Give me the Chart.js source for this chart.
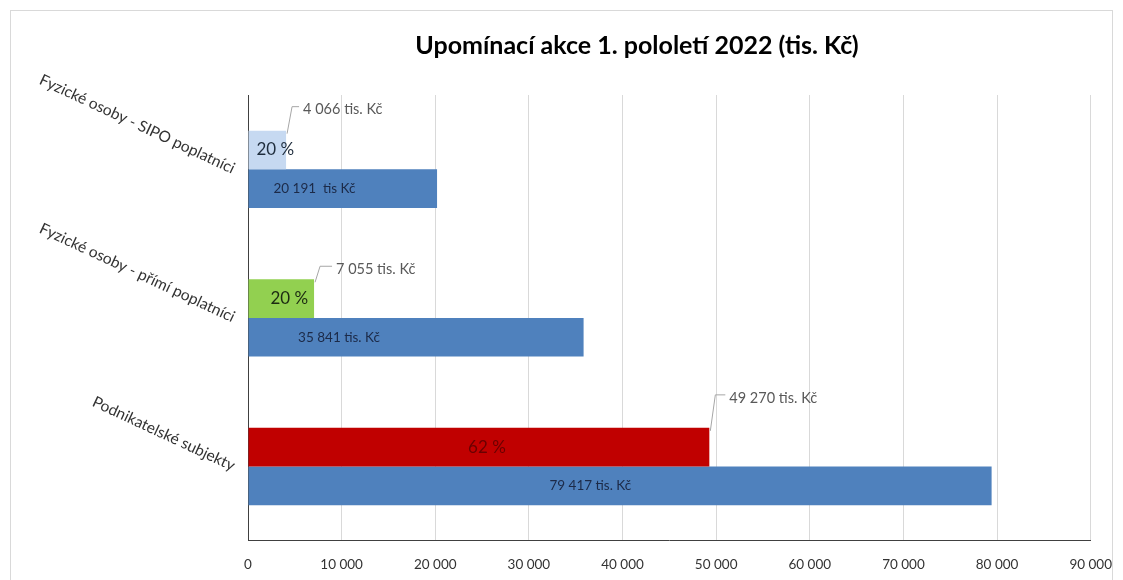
<!DOCTYPE html>
<html lang="cs">
  <head>
    <meta charset="UTF-8" />
    <title>Upomínací akce 1. pololetí 2022</title>
    <script src="https://cdn.jsdelivr.net/npm/chart.js"></script>
    <style>
      html, body {
        margin: 0;
        background: #fff;
        overflow: hidden;
      }
      .wrap {
        position: relative;
        width: 1128px;
        height: 599px;
      }
    </style>
  </head>
  <body>
    <div class="wrap">
      <canvas id="myChart"></canvas>
    </div>

    <script>
      // data
      var categories = [
        "Fyzické osoby - SIPO poplatníci",
        "Fyzické osoby - přímí poplatníci",
        "Podnikatelské subjekty"
      ];
      var recovered = [4066, 7055, 49270];
      var totals = [20191, 35841, 79417];
      var totalLabels = ["20 191  tis Kč", "35 841 tis. Kč", "79 417 tis. Kč"];
      var xTicks = [0, 10000, 20000, 30000, 40000, 50000, 60000, 70000, 80000, 90000];

      var partColors = ["#c6d9f1", "#92d050", "#c00000"];
      var partTextColors = ["#1f2d3d", "#1c2a12", "#6a0000"];

      function fmt(v) {
        return String(v).replace(/\B(?=(\d{3})+(?!\d))/g, " ");
      }

      var FONT = "Lato, 'Open Sans', sans-serif";

      var labelsPlugin = {
        id: "labels",
        afterDatasetsDraw: function (chart) {
          var ctx = chart.ctx;
          var area = chart.chartArea;
          var yScale = chart.scales.y;
          var partMeta = chart.getDatasetMeta(0).data;
          var totalMeta = chart.getDatasetMeta(1).data;
          // where the labels sit along their bars (as in the original)
          var totalPos = [0.35, 0.27, 0.46];
          var calloutUp = [21, 10, 30];
          var calloutGap = [17, 22, 20];

          ctx.save();

          // title
          ctx.fillStyle = "#000";
          ctx.font = "bold 25px " + FONT;
          ctx.textAlign = "center";
          ctx.textBaseline = "middle";
          ctx.fillText("Upomínací akce 1. pololetí 2022 (tis. Kč)", 637, 46);

          // rotated category labels
          ctx.font = "15.5px " + FONT;
          ctx.fillStyle = "#333333";
          ctx.textAlign = "right";
          for (var c = 0; c < categories.length; c++) {
            var cy = yScale.getPixelForValue(c);
            ctx.save();
            ctx.translate(area.left - 14, cy);
            ctx.rotate((25 * Math.PI) / 180);
            ctx.fillText(categories[c], 0, 0);
            ctx.restore();
          }

          for (var i = 0; i < categories.length; i++) {
            var p = partMeta[i];
            var t = totalMeta[i];

            // share in %
            var pct = Math.round((recovered[i] / totals[i]) * 100) + " %";
            ctx.font = "17px " + FONT;
            ctx.fillStyle = partTextColors[i];
            ctx.textAlign = "center";
            ctx.fillText(pct, (p.base + p.x) / 2 + 8, p.y);

            // total inside the blue bar
            ctx.font = "13.5px " + FONT;
            ctx.fillStyle = "#1c2a48";
            ctx.fillText(totalLabels[i], t.base + (t.x - t.base) * totalPos[i], t.y);

            // callout with leader line
            var top = p.y - p.height / 2;
            var ly = top - calloutUp[i];
            var lx = p.x + calloutGap[i];
            ctx.strokeStyle = "#a6a6a6";
            ctx.lineWidth = 1;
            ctx.beginPath();
            ctx.moveTo(p.x + 1, top + 3);
            ctx.lineTo(p.x + 6, ly - 3);
            ctx.lineTo(lx - 4, ly - 3);
            ctx.stroke();
            ctx.font = "14.5px " + FONT;
            ctx.fillStyle = "#595959";
            ctx.textAlign = "left";
            ctx.fillText(fmt(recovered[i]) + " tis. Kč", lx, ly);
          }

          // light frame round the chart
          ctx.strokeStyle = "#d9d9d9";
          ctx.strokeRect(10.5, 10.5, 1102, 620);
          ctx.restore();
        }
      };

      var ctx = document.getElementById("myChart").getContext("2d");
      new Chart(ctx, {
        type: "bar",
        data: {
          labels: categories,
          datasets: [
            {
              label: "Vymoženo",
              data: recovered,
              backgroundColor: partColors
            },
            {
              label: "Celkem",
              data: totals,
              backgroundColor: "#4f81bd"
            }
          ]
        },
        options: {
          indexAxis: "y",
          responsive: true,
          maintainAspectRatio: false,
          animation: false,
          categoryPercentage: 0.52,
          barPercentage: 1,
          layout: {
            padding: { left: 248, right: 20, top: 95, bottom: 10 }
          },
          plugins: {
            legend: { display: false },
            title: { display: false },
            tooltip: { enabled: false }
          },
          scales: {
            x: {
              min: 0,
              max: 90000,
              afterBuildTicks: function (scale) {
                scale.ticks = xTicks.map(function (v) {
                  return { value: v };
                });
              },
              grid: {
                color: function (c) {
                  return c.tick && c.tick.value === 0 ? "#404040" : "#d9d9d9";
                },
                drawTicks: false
              },
              border: { color: "#404040" },
              ticks: {
                padding: 16,
                color: "#333333",
                font: { family: FONT, size: 13.5 },
                maxRotation: 0,
                callback: function (v) {
                  return fmt(v);
                }
              }
            },
            y: {
              display: false
            }
          }
        },
        plugins: [labelsPlugin]
      });
    </script>
  </body>
</html>
